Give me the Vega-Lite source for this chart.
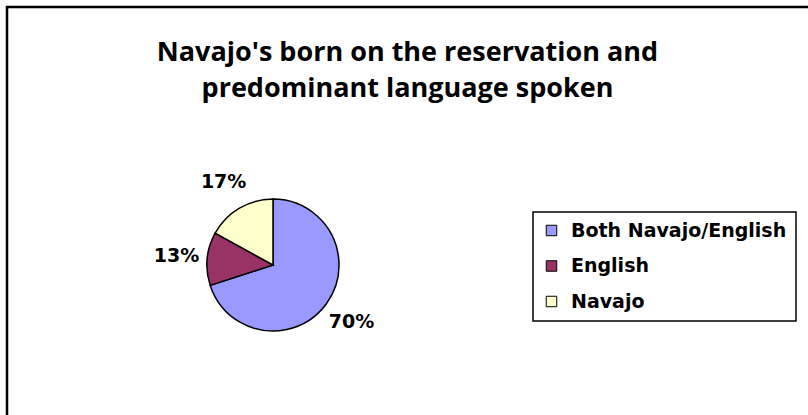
{
  "$schema": "https://vega.github.io/schema/vega-lite/v6.json",
  "width": 815,
  "height": 422,
  "autosize": {"type": "none"},
  "padding": {"left": 7, "top": 7, "right": -14, "bottom": -14},
  "background": "white",
  "view": {"stroke": "black", "strokeWidth": 2.5},
  "config": {
    "legend": {"strokeColor": "black", "strokeWidth": 1.5, "fillColor": "white"}
  },
  "title": {
    "text": ["Navajo's born on the reservation and", "predominant language spoken"],
    "font": "Open Sans",
    "fontSize": 27,
    "fontWeight": "bold",
    "color": "black",
    "anchor": "middle",
    "baseline": "top",
    "lineHeight": 36,
    "offset": -96,
    "dx": -7
  },
  "data": {
    "values": [
      {"category": "Both Navajo/English", "value": 0.70},
      {"category": "English", "value": 0.13},
      {"category": "Navajo", "value": 0.17}
    ]
  },
  "encoding": {
    "theta": {"field": "value", "type": "quantitative", "stack": true},
    "order": {"field": "category", "type": "nominal", "sort": "ascending"},
    "color": {
      "field": "category",
      "type": "nominal",
      "scale": {
        "domain": ["Both Navajo/English", "English", "Navajo"],
        "range": ["#9999FF", "#993366", "#FFFFCC"]
      },
      "legend": {
        "title": null,
        "orient": "none",
        "legendX": 526,
        "legendY": 205,
        "padding": 9,
        "labelFont": "DejaVu Sans",
        "labelFontSize": 19,
        "labelFontWeight": "bold",
        "labelColor": "black",
        "labelLimit": 300,
        "symbolType": "square",
        "symbolSize": 110,
        "symbolStrokeColor": "black",
        "symbolStrokeWidth": 1,
        "symbolOpacity": 1,
        "rowPadding": 15.5,
        "labelOffset": 10
      }
    }
  },
  "layer": [
    {
      "mark": {"type": "arc", "outerRadius": 66, "stroke": "black", "strokeWidth": 1.5, "x": 266, "y": 258}
    },
    {
      "mark": {"type": "text", "radius": 97, "x": 266, "y": 258, "font": "DejaVu Sans", "fontSize": 19, "fontWeight": "bold"},
      "encoding": {
        "text": {"field": "value", "type": "quantitative", "format": ".0%"},
        "detail": {"field": "category", "type": "nominal"},
        "color": {"value": "black"}
      }
    }
  ]
}
